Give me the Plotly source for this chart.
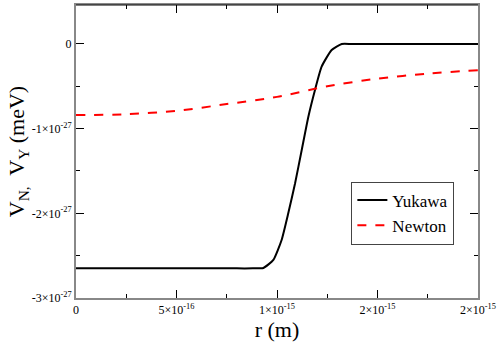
import plotly.graph_objects as go

# data (r in m, V in meV)
r_yukawa = [0, 0.3e-15, 0.6e-15, 0.8e-15, 0.88e-15, 0.932e-15, 0.982e-15, 1.023e-15, 1.056e-15,
            1.090e-15, 1.123e-15, 1.156e-15, 1.189e-15, 1.222e-15, 1.272e-15, 1.322e-15,
            1.37e-15, 1.45e-15, 1.7e-15, 2.0e-15]
v_yukawa = [-2.65e-27, -2.65e-27, -2.65e-27, -2.65e-27, -2.65e-27, -2.645e-27, -2.55e-27,
            -2.315e-27, -2.0e-27, -1.645e-27, -1.252e-27, -0.859e-27, -0.543e-27, -0.268e-27,
            -0.071e-27, 0, 0, 0, 0, 0]

r_newton = [0, 0.25e-15, 0.5e-15, 0.75e-15, 1.0e-15, 1.25e-15, 1.5e-15, 1.75e-15, 2.0e-15]
v_newton = [-0.84e-27, -0.83e-27, -0.79e-27, -0.71e-27, -0.625e-27, -0.50e-27, -0.41e-27,
            -0.35e-27, -0.31e-27]

x_ticks = [0, 5e-16, 1e-15, 1.5e-15, 2e-15]
x_labels = ["0", "5×10<sup>-16</sup>", "1×10<sup>-15</sup>", "2×10<sup>-15</sup>", "2×10<sup>-15</sup>"]
y_ticks = [0, -1e-27, -2e-27, -3e-27]
y_labels = ["0", "-1×10<sup>-27</sup>", "-2×10<sup>-27</sup>", "-3×10<sup>-27</sup>"]

serif = "Liberation Serif"

fig = go.Figure()
fig.add_trace(go.Scatter(
    x=r_yukawa, y=v_yukawa, mode="lines", name="Yukawa",
    line=dict(color="black", width=2, shape="spline", smoothing=0.5)
))
fig.add_trace(go.Scatter(
    x=r_newton, y=v_newton, mode="lines", name="Newton",
    line=dict(color="red", width=2, dash="dash", shape="spline", smoothing=0.8)
))

axis_common = dict(
    showline=True, linecolor="#888888", linewidth=2, mirror="ticks",
    ticks="inside", ticklen=8, tickcolor="black", tickwidth=1,
    showgrid=False, zeroline=False, automargin=False,
    tickfont=dict(family=serif, size=12, color="black"),
)

fig.update_xaxes(
    range=[0, 2e-15], tickmode="array", tickvals=x_ticks, ticktext=x_labels,
    minor=dict(ticks="inside", ticklen=4, tickcolor="black", dtick=2.5e-16, tick0=0),
    title=dict(text="r (m)", font=dict(family=serif, size=22, color="black"), standoff=0),
    **axis_common
)
fig.update_yaxes(
    range=[-3e-27, 0.46e-27], tickmode="array", tickvals=y_ticks, ticktext=y_labels,
    minor=dict(ticks="inside", ticklen=4, tickcolor="black", dtick=0.5e-27, tick0=0),
    title=dict(text="V<sub>N,</sub>  V<sub>Y</sub> (meV)",
               font=dict(family=serif, size=22, color="black"), standoff=0),
    **axis_common
)

# top border drawn black as in the reference
fig.add_shape(type="line", xref="paper", yref="paper", x0=0, x1=1, y0=1, y1=1,
              line=dict(color="black", width=1))

fig.update_layout(
    width=498, height=343,
    margin=dict(l=76, r=20, t=5, b=45),
    plot_bgcolor="white", paper_bgcolor="white",
    showlegend=True,
    legend=dict(
        x=0.685, y=0.29, xanchor="left", yanchor="middle",
        bordercolor="#444444", borderwidth=1, bgcolor="white",
        font=dict(family=serif, size=17, color="black"),
        itemwidth=30, tracegroupgap=0,
    ),
)

# page body has a default 8px margin; drop it so the figure sits at the corner
fig.write_html("out.html", config={"displayModeBar": False},
               post_script="document.body.style.margin='0';")
